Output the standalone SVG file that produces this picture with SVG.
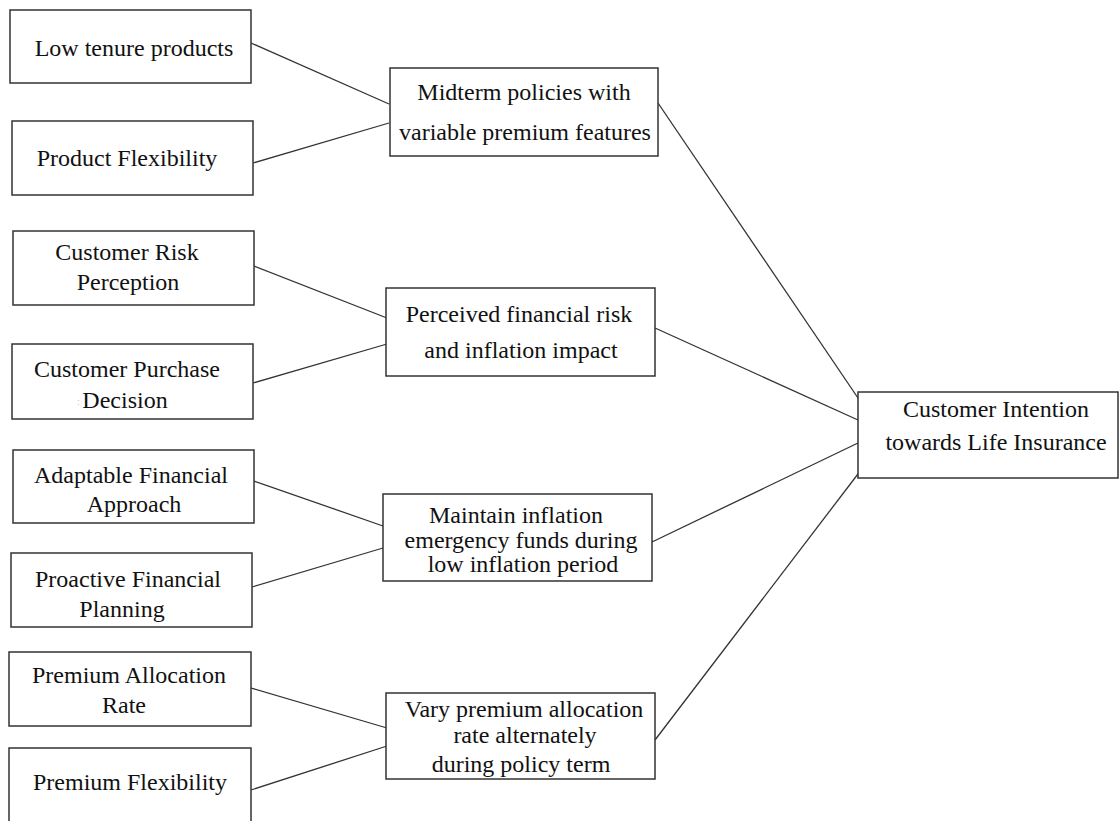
<svg xmlns="http://www.w3.org/2000/svg" width="1119" height="821" viewBox="0 0 1119 821">
<style>
.box{fill:#fff;stroke:#333;stroke-width:1.5}
.t{font-family:"Liberation Serif","Times New Roman",serif;font-size:24px;fill:#111;text-anchor:middle}
.c line{stroke:#333;stroke-width:1.3}
</style>
<rect width="1119" height="821" fill="#fff"/>
<g class="c" id="connectors">
<line x1="251" y1="43" x2="389" y2="104"/>
<line x1="253" y1="163" x2="389" y2="123"/>
<line x1="658" y1="103" x2="858" y2="398"/>
<line x1="254" y1="266" x2="387" y2="318"/>
<line x1="253" y1="383" x2="387" y2="344"/>
<line x1="655" y1="328" x2="858" y2="420"/>
<line x1="254" y1="481" x2="383" y2="526"/>
<line x1="252" y1="587" x2="383" y2="548"/>
<line x1="652" y1="542" x2="858" y2="443"/>
<line x1="251" y1="688" x2="387" y2="728"/>
<line x1="251" y1="790" x2="387" y2="746"/>
<line x1="655" y1="740" x2="861" y2="470"/>
</g>
<g id="n-low-tenure"><rect class="box" x="10" y="10" width="241" height="73"/><text class="t" x="134" y="56">Low tenure products</text></g>
<g id="n-product-flex"><rect class="box" x="12" y="121" width="241" height="74"/><text class="t" x="127" y="166">Product Flexibility</text></g>
<g id="n-midterm"><rect class="box" x="390" y="68" width="268" height="88"/><text class="t" x="524" y="100">Midterm policies with</text><text class="t" x="525" y="140">variable premium features</text></g>
<g id="n-risk-perception"><rect class="box" x="13" y="231" width="241" height="74"/><text class="t" x="127" y="260">Customer Risk</text><text class="t" x="128" y="290">Perception</text></g>
<g id="n-purchase"><rect class="box" x="12" y="344" width="241" height="75"/><text class="t" x="127" y="377">Customer Purchase</text><text class="t" x="125" y="408">Decision</text><text x="77" y="405" style="font-family:'Liberation Sans',sans-serif;font-size:9px;fill:#9bc4e6">:</text></g>
<g id="n-perceived"><rect class="box" x="386" y="288" width="269" height="88"/><text class="t" x="519" y="322">Perceived financial risk</text><text class="t" x="521" y="358">and inflation impact</text></g>
<g id="n-adaptable"><rect class="box" x="13" y="450" width="241" height="73"/><text class="t" x="131" y="483">Adaptable Financial</text><text class="t" x="134" y="512">Approach</text></g>
<g id="n-proactive"><rect class="box" x="11" y="553" width="241" height="74"/><text class="t" x="128" y="587">Proactive Financial</text><text class="t" x="122" y="617">Planning</text></g>
<g id="n-maintain"><rect class="box" x="383" y="494" width="269" height="87"/><text class="t" x="516" y="523">Maintain inflation</text><text class="t" x="521" y="548">emergency funds during</text><text class="t" x="523" y="572">low inflation period</text></g>
<g id="n-premium-alloc"><rect class="box" x="9" y="652" width="242" height="74"/><text class="t" x="129" y="683">Premium Allocation</text><text class="t" x="124" y="713">Rate</text></g>
<g id="n-premium-flex"><rect class="box" x="9" y="748" width="242" height="90"/><text class="t" x="130" y="790">Premium Flexibility</text></g>
<g id="n-vary"><rect class="box" x="386" y="693" width="269" height="86"/><text class="t" x="524" y="717">Vary premium allocation</text><text class="t" x="525" y="743">rate alternately</text><text class="t" x="521" y="772">during policy term</text></g>
<g id="n-intention"><rect class="box" x="858" y="392" width="260" height="86"/><text class="t" x="996" y="417">Customer Intention</text><text class="t" x="996" y="450">towards Life Insurance</text></g>
</svg>
